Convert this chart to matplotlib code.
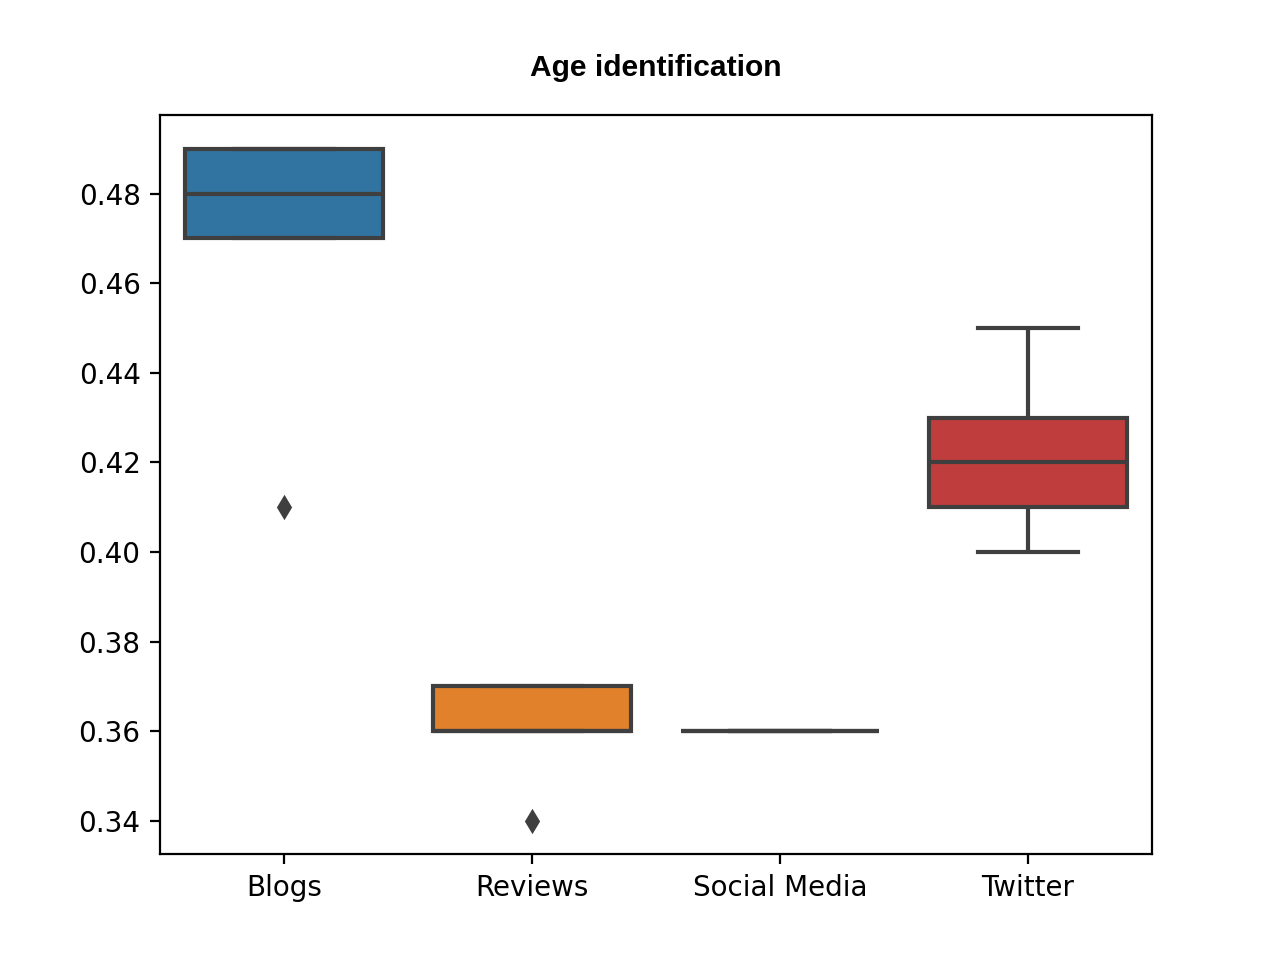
import numpy as np
import pandas as pd
import matplotlib
matplotlib.use("Agg")
import matplotlib.pyplot as plt
import seaborn as sns

categories = ["Blogs", "Reviews", "Social Media", "Twitter"]
blogs = [0.41, 0.47, 0.48, 0.49, 0.49]
reviews = [0.34, 0.36, 0.36, 0.37, 0.37]
social = [0.36, 0.36, 0.36, 0.36, 0.36]
twitter = [0.40, 0.41, 0.42, 0.43, 0.45]

rows = []
for name, vals in zip(categories, [blogs, reviews, social, twitter]):
    for v in vals:
        rows.append({"source": name, "score": v})
df = pd.DataFrame(rows)

fig, ax = plt.subplots(figsize=(6.4, 4.8), dpi=200)
sns.boxplot(data=df, x="source", y="score", hue="source", order=categories,
            palette=["#1f77b4", "#ff7f0e", "#2ca02c", "#d62728"], saturation=0.75,
            legend=False, ax=ax, linewidth=1.5, linecolor="#3f3f3f",
            flierprops=dict(marker="d", markerfacecolor="#3f3f3f",
                            markeredgecolor="#3f3f3f", markersize=5))
ax.set_xlabel("")
ax.set_ylabel("")
ax.set_yticks([0.34, 0.36, 0.38, 0.40, 0.42, 0.44, 0.46, 0.48])
ax.set_title("Age identification", fontsize=10.8, fontweight="bold",
             family="Liberation Sans", pad=14)
fig.savefig("out.png")
